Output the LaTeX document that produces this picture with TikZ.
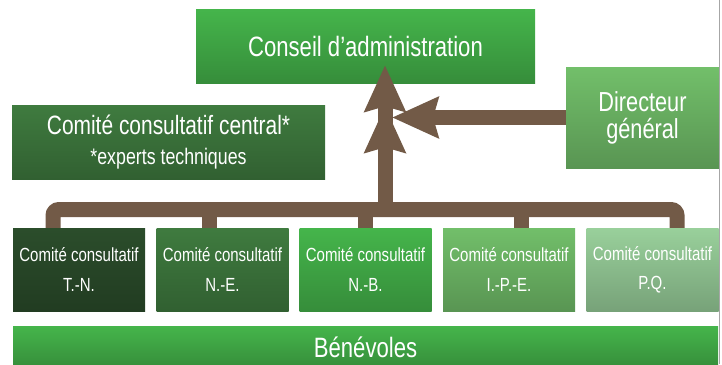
\documentclass[tikz,border=0pt]{standalone}
\usepackage{fontspec}
\setmainfont{Liberation Sans}[FakeStretch=0.79]
\usetikzlibrary{arrows.meta}
\definecolor{vertfonce}{HTML}{2B4D2B}
\definecolor{vertmoyen}{HTML}{3F7B3F}
\definecolor{vertvif}{HTML}{45B54B}
\definecolor{vertclair}{HTML}{72BF6A}
\definecolor{vertpale}{HTML}{99D09B}
\definecolor{brun}{HTML}{725A47}
\tikzset{
  boite/.style={text=white, align=center, inner sep=0pt,
    top color=#1, middle color=#1, bottom color=#1!78!black},
  comite/.style={boite=#1, minimum width=132pt, minimum height=83pt,
    font=\fontsize{19}{29}\selectfont},
  fleche/.style={draw=brun, line width=15pt},
  tete/.style={-{Stealth[length=46pt,width=40pt,inset=5pt]}},
  tetedouble/.style={-{Stealth[length=46pt,width=40pt,inset=5pt,sep=-5pt]Stealth[length=46pt,width=40pt,inset=5pt]}}
}
\begin{document}
\begin{tikzpicture}[x=1pt,y=-1pt]
    \useasboundingbox (0,0) rectangle (722,364);
    \node[boite=vertvif, minimum width=339pt, minimum height=74pt, font=\fontsize{28}{32}\selectfont] (conseil) at (365.5,46) {Conseil d'administration};
    \node[boite=vertmoyen, minimum width=313pt, minimum height=74pt, font=\fontsize{26.5}{30}\selectfont] (central) at (168.5,142) {Comité consultatif central*\\{\fontsize{22.5}{30}\selectfont *experts techniques}};
    \node[boite=vertclair, minimum width=153pt, minimum height=101pt, font=\fontsize{27.5}{27}\selectfont] (directeur) at (642.5,117.5) {Directeur\\général};
    \node[comite=vertfonce] (c0) at (79,269.5) {Comité consultatif\\T.-N.};
    \node[comite=vertmoyen] (c1) at (222.5,269.5) {Comité consultatif\\N.-E.};
    \node[comite=vertvif] (c2) at (365.5,269.5) {Comité consultatif\\N.-B.};
    \node[comite=vertclair] (c3) at (509,269.5) {Comité consultatif\\I.-P.-E.};
    \node[comite=vertpale] (c4) at (652.5,269.5) {Comité consultatif\\P.Q.};
    \node[boite=vertvif, minimum width=705pt, minimum height=42pt, font=\fontsize{28}{30}\selectfont] (benevoles) at (365.5,347) {Bénévoles};
    % barre des comites
    \foreach \i in {0,...,4}
        \coordinate (d\i) at (53+156*\i,209.5);
    \coordinate (hub) at (385,209.5);
    \draw[fleche, rounded corners=6pt] (d0 |- c0.north) -- (d0) -- (d4) -- (d4 |- c4.north);
    \foreach \i in {1,2,3}
        \draw[fleche] (d\i) -- (d\i |- c\i.north);
    % fleches
    \draw[fleche, tetedouble, shorten >=-18pt] (hub) -- (hub |- conseil.south);
    \draw[fleche, tete, shorten >=7pt] (directeur.west) -- (directeur.west -| hub);
    \draw[gray!70, line width=1.5pt] (719.5,0) -- (719.5,364);
\end{tikzpicture}
\end{document}
